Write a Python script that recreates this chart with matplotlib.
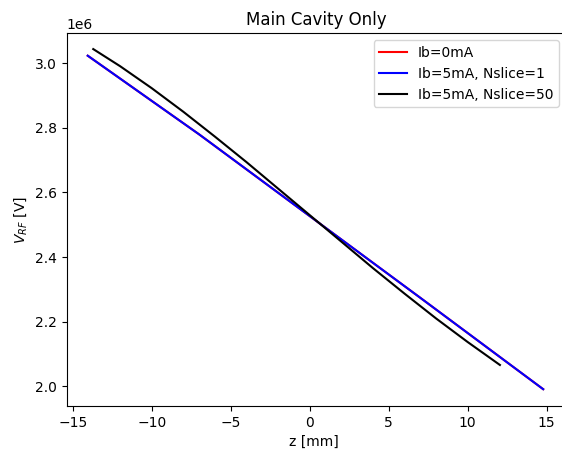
"""
plot.py
purpose: redraw the 'Main Cavity Only' RF voltage vs z chart.
"""

import matplotlib
matplotlib.use("Agg")
import matplotlib.pyplot as plt

# data (V in units of 1e6 V)
Z_MAIN = [-14.05, -7.0, 0.0, 7.0, 14.78]
V_IB0 = [3.0235, 2.780, 2.527, 2.274, 1.991]
V_IB5_N1 = [3.0235, 2.780, 2.527, 2.274, 1.991]

Z_SLICE = [-13.7, -12.0, -10.0, -8.0, -6.0, -4.0, -2.0, 0.0,
           2.0, 4.0, 6.0, 8.0, 10.0, 12.04]
V_IB5_N50 = [3.044, 2.991, 2.923, 2.850, 2.773, 2.694, 2.612, 2.530,
             2.448, 2.366, 2.287, 2.210, 2.137, 2.066]

LABELS = ["Ib=0mA", "Ib=5mA, Nslice=1", "Ib=5mA, Nslice=50"]
COLORS = ["red", "blue", "black"]


def main():
    fig = plt.figure(figsize=(5.62, 4.51), dpi=100)
    # the reference is cropped right at the axes' right side: no right spine shown
    ax = fig.add_axes([0.1187, 0.0998, 0.8813, 0.8264])
    ax.spines["right"].set_visible(False)
    ax.spines["right"].set_linewidth(0)
    ax.spines["right"].set_color("none")

    ax.plot(Z_MAIN, [v * 1e6 for v in V_IB0], color=COLORS[0], label=LABELS[0])
    ax.plot(Z_MAIN, [v * 1e6 for v in V_IB5_N1], color=COLORS[1], label=LABELS[1])
    ax.plot(Z_SLICE, [v * 1e6 for v in V_IB5_N50], color=COLORS[2], label=LABELS[2])

    ax.set_xlim(-15.38, 15.97)
    ax.set_ylim(1.939e6, 3.0929e6)
    ax.set_xticks([-15, -10, -5, 0, 5, 10, 15])

    ax.set_xlabel("z [mm]")
    ax.set_ylabel(r"$V_{RF}$ [V]")
    ax.set_title("Main Cavity Only", x=0.503)
    ax.legend(loc="upper right", bbox_to_anchor=(1.008, 1.0))

    fig.savefig("out.png", dpi=100)
    plt.close(fig)


if __name__ == "__main__":
    main()
